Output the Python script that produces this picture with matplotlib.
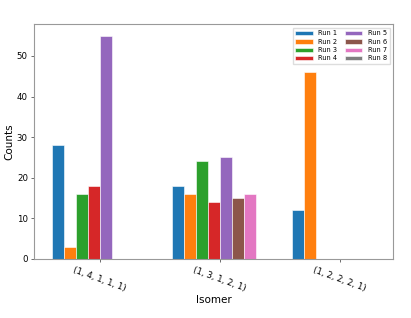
"""
grouped bar chart of isomer counts per run.
"""
import numpy as np
import matplotlib.pyplot as plt

isomers = ["(1, 4, 1, 1, 1)", "(1, 3, 1, 2, 1)", "(1, 2, 2, 2, 1)"]
runs = ["Run 1", "Run 2", "Run 3", "Run 4", "Run 5", "Run 6", "Run 7", "Run 8"]

run_1 = [28, 18, 12]
run_2 = [3, 16, 46]
run_3 = [16, 24, 0]
run_4 = [18, 14, 0]
run_5 = [55, 25, 0]
run_6 = [0, 15, 0]
run_7 = [0, 16, 0]
run_8 = [0, 0, 0]

counts = [run_1, run_2, run_3, run_4, run_5, run_6, run_7, run_8]
colors = plt.get_cmap("tab10").colors

fig = plt.figure(figsize=(4.11, 3.18), dpi=100)
ax = fig.add_axes([0.083, 0.186, 0.873, 0.737])

x = np.arange(len(isomers))
width = 0.1
for i, (run, vals) in enumerate(zip(runs, counts)):
    ax.bar(
        x + (i - 3.5) * width,
        vals,
        width,
        label=run,
        color=colors[i],
        edgecolor="white",
        linewidth=0.4,
    )

ax.set_xlim(-0.545, 2.445)
ax.set_xticks(x)
ax.set_xticklabels(isomers, rotation=-20, ha="center", fontsize=6.2)
ax.tick_params(axis="y", labelsize=6.2)
ax.tick_params(colors="#555555", length=2.5, width=0.6, labelcolor="black", pad=2)
for spine in ax.spines.values():
    spine.set_color("#999999")
    spine.set_linewidth(0.8)

ax.set_xlabel("Isomer", fontsize=7.5, labelpad=2)
ax.set_ylabel("Counts", fontsize=7.5, labelpad=2)
ax.legend(
    ncol=2,
    fontsize=4.8,
    loc="upper right",
    handlelength=2.6,
    handleheight=0.6,
    columnspacing=1.2,
    labelspacing=0.35,
    framealpha=1,
    edgecolor="#dddddd",
    fancybox=False,
)

fig.savefig("out.png", dpi=100)
